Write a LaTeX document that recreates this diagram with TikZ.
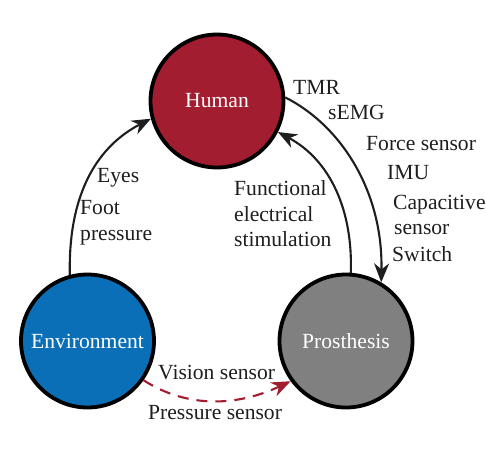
\documentclass[tikz,border=0pt]{standalone}
\usepackage{fontspec}
\setmainfont{Liberation Serif}
\usetikzlibrary{arrows.meta}
\definecolor{humanred}{HTML}{A31D30}
\definecolor{envblue}{HTML}{0B6FB8}
\definecolor{prosgray}{HTML}{808080}
\definecolor{txtgray}{HTML}{1E1E1E}
\tikzset{
  agent/.style={circle, draw=black, line width=3.8pt, minimum size=133pt, inner sep=0pt, text=white, font=\fontsize{21.6}{26}\selectfont},
  lbl/.style={anchor=base west, inner sep=0pt, text=txtgray, font=\fontsize{21.6}{26}\selectfont},
  flow/.style={line width=2.1pt, draw=txtgray, -{Stealth[length=19pt, width=15pt, inset=6pt]}},
  dflow/.style={line width=2.1pt, draw=humanred, dash pattern=on 11pt off 8pt, -{Stealth[length=19pt, width=15pt, inset=6pt, fill=humanred]}}
}
\begin{document}
\begin{tikzpicture}[x=1pt, y=-1pt]
\useasboundingbox (0,0) rectangle (486,450);
\node[agent, fill=humanred] (hum) at (217,101) {Human};
\node[agent, fill=envblue] (env) at (87.5,341) {Environment};
\node[agent, fill=prosgray] (pro) at (346,341) {Prosthesis};

\draw[flow] (env.105) .. controls (68,190) and (100,145) .. (hum.195);
\draw[flow] (hum.3) .. controls (340,125) and (383,190) .. (pro.59);
\draw[flow] (pro.86) .. controls (353,210) and (330,160) .. (hum.-27);
\draw[dflow] (env.-35) .. controls (190,410) and (240,405) .. (pro.216);

\node[lbl] (t1) at (293,94) {TMR};
\node[lbl] (t2) at (328,119) {sEMG};
\node[lbl] (t3) at (366,150) {Force sensor};
\node[lbl] (t4) at (387,179) {IMU};
\node[lbl] (t5) at (393,209) {Capacitive};
\node[lbl] (t6) at (394,234) {sensor};
\node[lbl] (t7) at (392,261) {Switch};

\node[lbl] (e1) at (97,182) {Eyes};
\node[lbl] (e2) at (80,214) {Foot};
\node[lbl] (e3) at (80,240) {pressure};

\node[lbl] (f1) at (234,195) {Functional};
\node[lbl] (f2) at (234,221) {electrical};
\node[lbl] (f3) at (234,246) {stimulation};

\node[lbl] (v1) at (158,379) {Vision sensor};
\node[lbl] (v2) at (148,419) {Pressure sensor};
\end{tikzpicture}
\end{document}
